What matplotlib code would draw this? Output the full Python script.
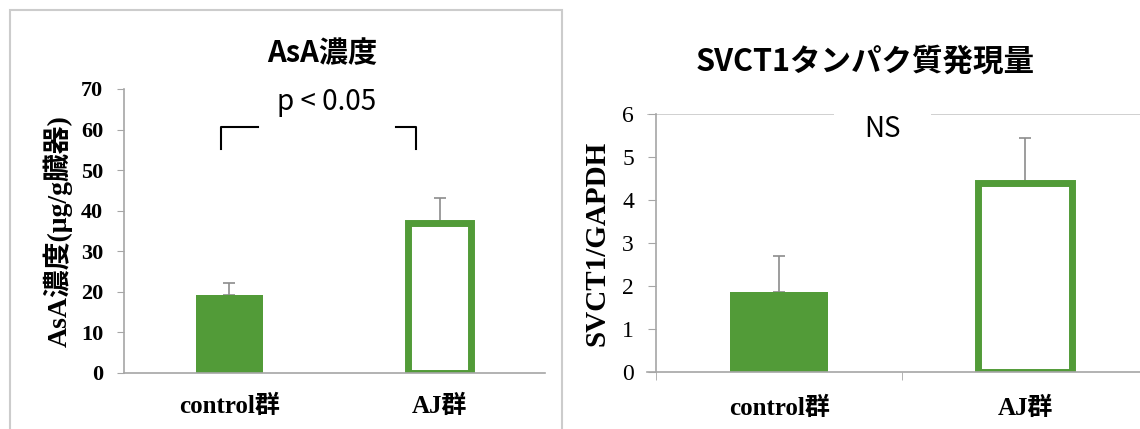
import matplotlib
matplotlib.use('Agg')
import matplotlib.pyplot as plt
from matplotlib.patches import Rectangle
from matplotlib.lines import Line2D

# ----------- DATA ------------
groups = ['control群', 'AJ群']
asa_mean = [19.2, 37.0]
asa_err = [3.0, 6.1]
svct_mean = [1.85, 4.4]
svct_err = [0.85, 1.04]
asa_ticks = [0, 10, 20, 30, 40, 50, 60, 70]
svct_ticks = [0, 1, 2, 3, 4, 5, 6]
# -----------------------------

GREEN = '#529B38'
AXC = '#a6a6a6'
SERIF = ['Liberation Serif', 'Noto Sans CJK JP']
NARROW = ['Liberation Sans Narrow', 'Noto Sans CJK JP']

fig = plt.figure(figsize=(11.4, 4.29), dpi=100)

# gray frame around left chart
fig.patches.append(Rectangle((10 / 1140, -0.05), 552 / 1140, 1.05 - 10 / 429,
                             transform=fig.transFigure, fill=False,
                             edgecolor='#cccccc', lw=1.5))


def draw_bars(ax, means, errs, w):
    x = [0, 1]
    ax.bar(x[0], means[0], width=w, color=GREEN, zorder=2)
    ax.bar(x[1], means[1], width=w - 0.02, facecolor='white', edgecolor=GREEN,
           linewidth=5, zorder=2)
    ax.errorbar(x, means, yerr=[[0, 0], errs], fmt='none', ecolor='#8c8c8c',
                elinewidth=1.2, capsize=4, capthick=1.2, zorder=1)


# ---- left: AsA ----
ax1 = fig.add_axes([124 / 1140, 1 - 373 / 429, 421 / 1140, 284 / 429])
draw_bars(ax1, asa_mean, asa_err, 0.32)
ax1.set_xlim(-0.5, 1.5)
ax1.set_ylim(0, 70)
ax1.set_yticks(asa_ticks)
ax1.set_yticklabels([str(t) for t in asa_ticks], family=SERIF,
                    fontweight='bold', fontsize=16)
ax1.set_xticks([0, 1])
ax1.set_xticklabels(groups, family=SERIF, fontweight='bold', fontsize=18)
ax1.tick_params(axis='x', length=0, pad=16)
ax1.tick_params(axis='y', length=5, color=AXC, direction='out', pad=10)
for s in ['top', 'right']:
    ax1.spines[s].set_visible(False)
for s in ['left', 'bottom']:
    ax1.spines[s].set_color(AXC)
    ax1.spines[s].set_linewidth(1.2)
ax1.set_ylabel('AsA濃度(μg/g臓器)', family=SERIF, fontweight='bold',
               fontsize=20, labelpad=6)
fig.text(322 / 1140, 1 - 53 / 429, 'AsA濃度', ha='center', va='center',
         family=NARROW, fontweight='bold', fontsize=21)

# significance bracket
fig.text(327 / 1140, 1 - 102 / 429, 'p < 0.05', ha='center', va='center',
         family=NARROW, fontsize=20)
for xs, ys in (([221, 221, 258], [149, 127, 127]),
               ([396, 416, 416], [127, 127, 149])):
    fig.add_artist(Line2D([v / 1140 for v in xs], [1 - v / 429 for v in ys],
                          color='black', lw=1.5))

# ---- right: SVCT1 ----
ax2 = fig.add_axes([647 / 1140, 1 - 372 / 429, 501 / 1140, 258 / 429])
draw_bars(ax2, svct_mean, svct_err, 0.40)
ax2.set_xlim(-0.537, 1.5)
ax2.set_ylim(0, 6)
ax2.spines['left'].set_position(('data', -0.5))
ax2.set_yticks(svct_ticks)
ax2.set_yticklabels([str(t) for t in svct_ticks], family=SERIF, fontsize=17)
ax2.set_xticks([0, 1])
ax2.set_xticklabels(groups, family=SERIF, fontweight='bold', fontsize=18)
ax2.set_xticks([-0.5, 0.5], minor=True)
ax2.tick_params(axis='x', which='major', length=0, pad=18)
ax2.tick_params(axis='x', which='minor', length=6, color=AXC, direction='out')
ax2.tick_params(axis='y', length=6, color=AXC, direction='out', pad=10)
for s in ['top', 'right']:
    ax2.spines[s].set_visible(False)
for s in ['left', 'bottom']:
    ax2.spines[s].set_color(AXC)
    ax2.spines[s].set_linewidth(1.2)
ax2.axhline(6, color='#c8c8c8', lw=1.2, zorder=0)
ax2.text(0.42, 5.65, 'NS', ha='center', va='center', family=NARROW,
         fontsize=20, zorder=3,
         bbox=dict(facecolor='white', edgecolor='none', pad=22))
ax2.set_ylabel('SVCT1/GAPDH', family=SERIF, fontweight='bold', fontsize=21,
               labelpad=8)
fig.text(865 / 1140, 1 - 62 / 429, 'SVCT1タンパク質発現量', ha='center',
         va='center', family=NARROW, fontweight='bold', fontsize=22)

fig.savefig('out.png', dpi=100)
